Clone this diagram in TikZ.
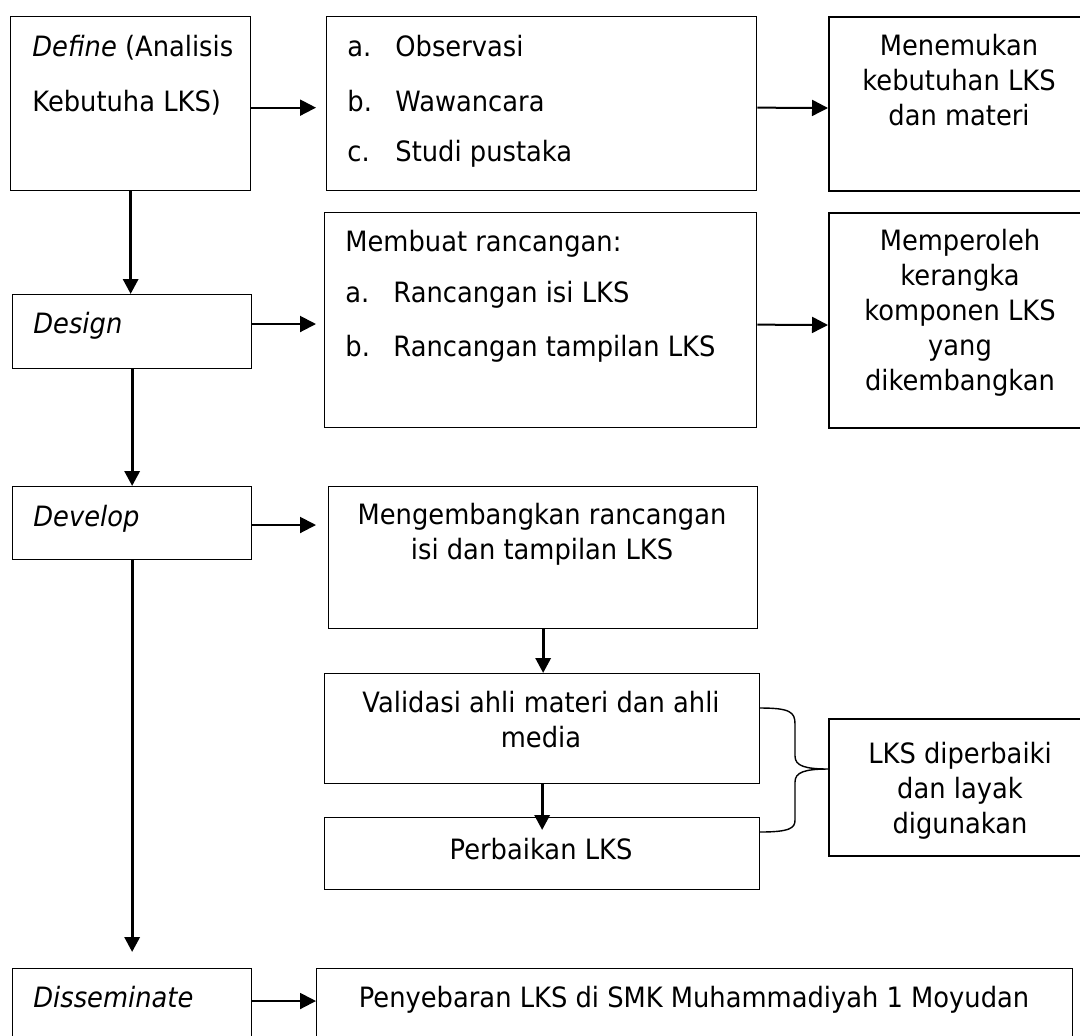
\documentclass[tikz,border=0pt]{standalone}
\usepackage{fontspec}
\setmainfont{DejaVu Sans}[FakeStretch=0.92]
\usetikzlibrary{arrows.meta}

\begin{document}
\begin{tikzpicture}[x=0.5pt,y=-0.5pt,
  box/.style={draw, rectangle, anchor=north west, inner sep=0pt, line width=0.65pt},
  boxb/.style={box, line width=1pt},
  txt/.style={inner sep=0pt, font=\fontsize{14}{17.5}\selectfont},
  arr/.style={-{Triangle[length=8pt,width=8pt]}, line width=1pt},
  arrv/.style={-{Triangle[length=7.5pt,width=7.5pt]}, line width=1.6pt},
  brc/.style={line width=0.7pt}]
\useasboundingbox (0,0) rectangle (1080,1035);
\node[box, minimum width=120pt, minimum height=87pt] (define) at (10,16){};
\node[box, minimum width=215pt, minimum height=87pt] (obs) at (326,16){};
\node[boxb, minimum width=131pt, minimum height=87pt] (menemukan) at (828,16){};
\node[box, minimum width=119.5pt, minimum height=37pt] (design) at (12,294){};
\node[box, minimum width=216pt, minimum height=107.5pt] (membuat) at (324,212){};
\node[boxb, minimum width=131pt, minimum height=107.5pt] (memperoleh) at (828,212){};
\node[box, minimum width=119.5pt, minimum height=36.5pt] (develop) at (12,486){};
\node[box, minimum width=214.5pt, minimum height=71pt] (mengembangkan) at (328,486){};
\node[box, minimum width=217.5pt, minimum height=55pt] (validasi) at (324,673){};
\node[box, minimum width=217.5pt, minimum height=36pt] (perbaikan) at (324,817){};
\node[boxb, minimum width=131pt, minimum height=68.5pt] (lksbaik) at (828,718){};
\node[box, minimum width=119.5pt, minimum height=40pt] (disseminate) at (12,968){};
\node[box, minimum width=378pt, minimum height=40pt] (penyebaran) at (316,968){};

\node[txt, anchor=base west, align=left] (defineT) at (32,111){\textit{Define} (Analisis\\[10pt]Kebutuha LKS)};
\node[txt, anchor=base west] (obsA) at (347,56){\makebox[24pt][l]{a.}Observasi};
\node[txt, anchor=base west] (obsB) at (347,111){\makebox[24pt][l]{b.}Wawancara};
\node[txt, anchor=base west] (obsC) at (347,161){\makebox[24pt][l]{c.}Studi pustaka};
\node[txt, anchor=base, align=center] (menemukanT) at (959,125){Menemukan\\kebutuhan LKS\\dan materi};
\node[txt, anchor=base west] (designT) at (33,333){\textit{Design}};
\node[txt, anchor=base west] (membuatT) at (345,251){Membuat rancangan:};
\node[txt, anchor=base west] (membuatA) at (345,302){\makebox[24pt][l]{a.}Rancangan isi LKS};
\node[txt, anchor=base west] (membuatB) at (345,356){\makebox[24pt][l]{b.}Rancangan tampilan LKS};
\node[txt, anchor=base, align=center] (memperolehT) at (960,390){Memperoleh\\kerangka\\komponen LKS\\yang\\dikembangkan};
\node[txt, anchor=base west] (developT) at (33,526){\textit{Develop}};
\node[txt, anchor=base, align=center] (mengembangkanT) at (542,559){Mengembangkan rancangan\\isi dan tampilan LKS};
\node[txt, anchor=base, align=center] (validasiT) at (541,747){Validasi ahli materi dan ahli\\media};
\node[txt, anchor=base] (perbaikanT) at (541,859){Perbaikan LKS};
\node[txt, anchor=base, align=center] (lksbaikT) at (960,833){LKS diperbaiki\\dan layak\\digunakan};
\node[txt, anchor=base west] (disseminateT) at (33,1007){\textit{Disseminate}};
\node[txt, anchor=base] (penyebaranT) at (694,1007){Penyebaran LKS di SMK Muhammadiyah 1 Moyudan};

\draw[arr, shorten >=5pt] ([yshift=-2pt]define.east) -- ([yshift=-2pt]obs.west);
\draw[arr] ([yshift=-2pt]obs.east) -- ([yshift=-2pt]menemukan.west);
\draw[arr, shorten >=4pt] (design.east |- 0,324) -- (membuat.west |- 0,324);
\draw[arr] ([yshift=-2.25pt]membuat.east) -- ([yshift=-2.25pt]memperoleh.west);
\draw[arr, shorten >=6pt] (develop.east |- 0,525) -- (mengembangkan.west |- 0,525);
\draw[arr] (disseminate.east |- 0,1001) -- (penyebaran.west |- 0,1001);
\draw[arrv] (define.south) -- (define.south |- design.north);
\draw[arrv] (design.south) -- (develop.north);
\draw[arrv, shorten >=8pt] (develop.south) -- (disseminate.north);
\draw[arrv] (mengembangkan.south) -- (mengembangkan.south |- validasi.north);
\draw[arrv, shorten >=-6.5pt] (validasi.south) -- (perbaikan.north);

\coordinate (braceT) at (760,708);
\coordinate (braceM) at (829,769);
\coordinate (braceB) at (760,832);
\draw[brc] (braceT) .. controls (790,708) and (795,712) .. (795,724) -- (795,756) .. controls (795,766) and (805,769) .. (braceM) .. controls (805,769) and (795,772) .. (795,782) -- (795,820) .. controls (795,828) and (790,832) .. (braceB);
\end{tikzpicture}
\end{document}
